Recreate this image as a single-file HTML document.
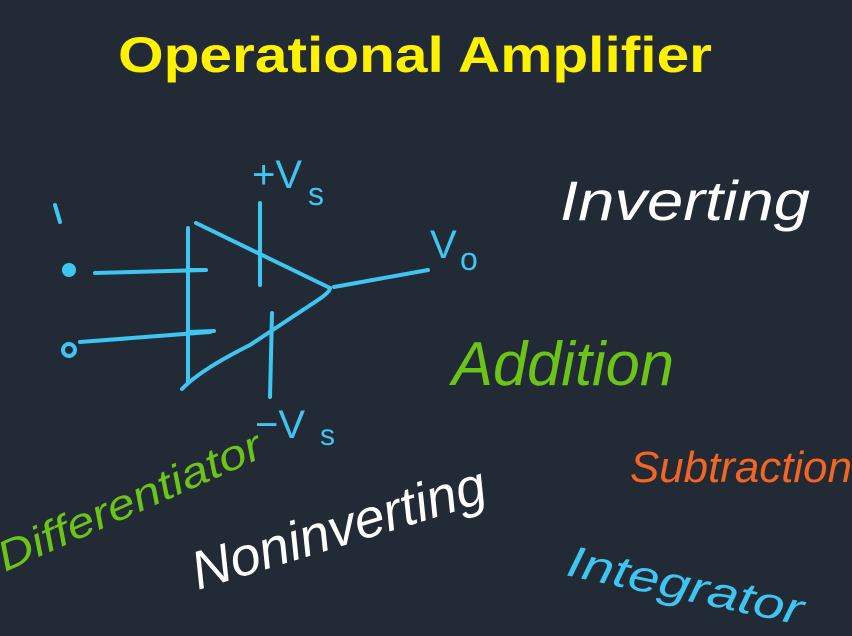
<!DOCTYPE html>
<html><head><meta charset="utf-8"><style>
html,body{margin:0;padding:0;background:#222a35;}
svg{display:block}
text{font-family:"Liberation Sans",sans-serif}
</style></head><body>
<svg width="852" height="636" viewBox="0 0 852 636" xmlns="http://www.w3.org/2000/svg">
<rect width="852" height="636" fill="#222a35"/>
<text x="118" y="72" font-size="50" font-weight="bold" fill="#fff200" textLength="594" lengthAdjust="spacingAndGlyphs">Operational Amplifier</text>
<g stroke="#3ec6f2" stroke-width="4" fill="none" stroke-linecap="round">
<line x1="188" y1="228" x2="188" y2="382"/>
<line x1="188" y1="270" x2="206" y2="270"/>
<line x1="188" y1="332" x2="214" y2="331"/>
<line x1="196" y1="223" x2="330" y2="288"/>
<path d="M182 389 Q200 370 250 345 L318 300 Q330 292 330 288"/>
<line x1="260" y1="203" x2="260" y2="285"/>
<line x1="272" y1="313" x2="270" y2="397"/>
<line x1="334" y1="287" x2="428" y2="270"/>
<line x1="95" y1="273" x2="205" y2="270"/>
<line x1="80" y1="342" x2="210" y2="332"/>
<line x1="55" y1="205" x2="60" y2="222"/>
</g>
<circle cx="69" cy="270" r="7" fill="#3ec6f2"/>
<circle cx="69" cy="350" r="6" fill="none" stroke="#3ec6f2" stroke-width="4"/>
<g fill="#3ec6f2" font-size="40">
<text x="252" y="188">+V</text><text x="308" y="205" font-size="32">s</text>
<text x="430" y="258">V</text><text x="460" y="270" font-size="32">o</text>
<text x="255" y="438">−V</text><text x="320" y="445" font-size="30">s</text>
</g>
<text x="560" y="220" font-size="56" fill="#fff" textLength="250" lengthAdjust="spacingAndGlyphs" font-style="italic">Inverting</text>
<text x="452" y="385" font-size="62" fill="#6cc417" textLength="222" lengthAdjust="spacingAndGlyphs" font-style="italic">Addition</text>
<text x="630" y="482" font-size="44" fill="#f26522" textLength="222" lengthAdjust="spacingAndGlyphs" font-style="italic">Subtraction</text>
<text transform="translate(5,572) rotate(-24)" font-size="42" fill="#6cc417" textLength="285" lengthAdjust="spacingAndGlyphs" font-style="italic">Differentiator</text>
<text transform="translate(198,590) rotate(-17)" font-size="54" fill="#fff" textLength="305" lengthAdjust="spacingAndGlyphs" font-style="italic">Noninverting</text>
<text transform="translate(565,575) rotate(12)" font-size="44" fill="#3ec6f2" textLength="240" lengthAdjust="spacingAndGlyphs" font-style="italic">Integrator</text>
</svg>
</body></html>
